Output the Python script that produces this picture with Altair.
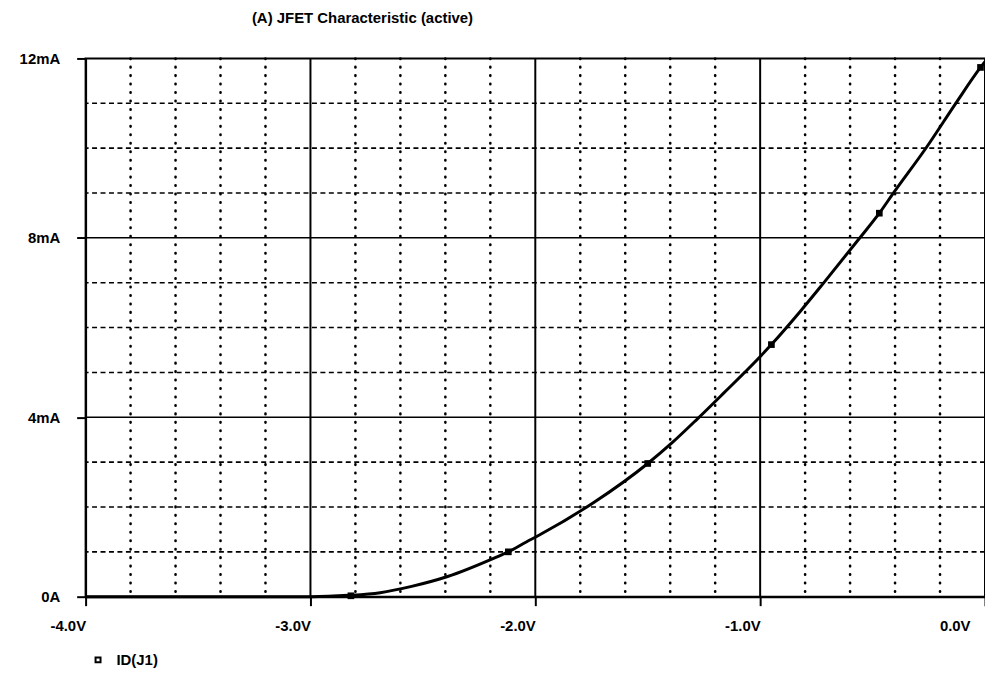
import altair as alt
import pandas as pd

# Curve: gate voltage (V) vs drain current (mA)
vgs = [-4.0, -3.0, -2.83, -2.69, -2.55, -2.39, -2.17, -2.12, -2.04, -1.98, -1.74, -1.50,
       -1.39, -1.28, -1.16, -1.01, -0.95, -0.82, -0.72, -0.56, -0.47, -0.41, -0.26,
       -0.13, -0.02, 0.0]
id_ma = [0.0, 0.0, 0.03, 0.09, 0.23, 0.45, 0.89, 1.0, 1.22, 1.38, 2.1, 2.97,
         3.44, 3.96, 4.55, 5.3, 5.62, 6.37, 6.98, 7.98, 8.55, 8.98, 10.02,
         11.0, 11.8, 11.93]

# Marker positions along the trace
mark_v = [-2.82, -2.12, -1.50, -0.95, -0.47, -0.02]
mark_i = [0.02, 1.0, 2.97, 5.62, 8.55, 11.8]

series_name = "ID(J1)"
title_text = "(A) JFET Characteristic (active)"

x_ticks = [-4, -3, -2, -1, 0]
y_ticks = [0, 4, 8, 12]
x_major = [-3, -2, -1]
x_minor = [-3.8, -3.6, -3.4, -3.2, -2.8, -2.6, -2.4, -2.2, -1.8, -1.6, -1.4, -1.2,
           -0.8, -0.6, -0.4, -0.2]
y_major = [4, 8]
y_minor = [1, 2, 3, 5, 6, 7, 9, 10, 11]

FONT = "Liberation Sans"

curve_df = pd.DataFrame({"v": vgs, "i": id_ma, "s": series_name})
mark_df = pd.DataFrame({"v": mark_v, "i": mark_i})

xscale = alt.Scale(domain=[-4, 0], nice=False, zero=False)
yscale = alt.Scale(domain=[0, 12], nice=False, zero=False)

x_axis = alt.Axis(
    values=x_ticks,
    labelExpr="datum.value == 0 ? '0.0V' : datum.value + '.0V'",
    labelAlign="right",
    labelBaseline="top",
    labelFont=FONT, labelFontSize=15, labelFontWeight="bold", labelColor="black",
    labelPadding=13,
    labelOffset={"condition": {"test": "datum.value == 0", "value": -15}, "value": 0},
    labelFlush=False, labelOverlap=False,
    tickSize=9, tickWidth=2, tickColor="black",
    domainColor="black", domainWidth=2,
    grid=False, title=None,
)
y_axis = alt.Axis(
    values=y_ticks,
    labelExpr="datum.value == 0 ? '0A' : datum.value + 'mA'",
    labelAlign="right",
    labelBaseline="middle",
    labelFont=FONT, labelFontSize=15, labelFontWeight="bold", labelColor="black",
    labelPadding=17,
    labelFlush=False, labelOverlap=False,
    tickSize=9, tickWidth=2, tickColor="black",
    domainColor="black", domainWidth=2,
    grid=False, title=None,
)

minor_v = alt.Chart(pd.DataFrame({"v": x_minor})).mark_rule(
    color="black", strokeWidth=2.6, strokeDash=[0.5, 8], strokeCap="round"
).encode(x=alt.X("v:Q", scale=xscale, axis=x_axis))

minor_h = alt.Chart(pd.DataFrame({"i": y_minor})).mark_rule(
    color="black", strokeWidth=1.6, strokeDash=[5, 3.5]
).encode(y=alt.Y("i:Q", scale=yscale, axis=y_axis))

major_v = alt.Chart(pd.DataFrame({"v": x_major})).mark_rule(
    color="black", strokeWidth=2
).encode(x=alt.X("v:Q", scale=xscale))

major_h = alt.Chart(pd.DataFrame({"i": y_major})).mark_rule(
    color="black", strokeWidth=1.5
).encode(y=alt.Y("i:Q", scale=yscale))

curve = alt.Chart(curve_df).mark_line(strokeWidth=3, interpolate="monotone").encode(
    x=alt.X("v:Q", scale=xscale),
    y=alt.Y("i:Q", scale=yscale),
    color=alt.Color(
        "s:N",
        scale=alt.Scale(domain=[series_name], range=["black"]),
        legend=alt.Legend(
            orient="none", legendX=5, legendY=597, title=None, padding=0,
            symbolType="square", symbolSize=25, symbolStrokeWidth=2,
            symbolStrokeColor="black", symbolFillColor="white",
            labelFont=FONT, labelFontSize=15, labelFontWeight="bold",
            labelColor="black", labelOffset=11,
        ),
    ),
)

markers = alt.Chart(mark_df).mark_square(size=45, color="black", opacity=1).encode(
    x=alt.X("v:Q", scale=xscale),
    y=alt.Y("i:Q", scale=yscale),
)

chart = alt.layer(minor_v, minor_h, major_v, major_h, curve, markers).properties(
    width=904,
    height=541,
    title=alt.TitleParams(
        title_text, anchor="start", dx=234, offset=11, baseline="bottom",
        font=FONT, fontSize=15, fontWeight="bold", color="black",
    ),
    autosize=alt.AutoSizeParams(type="none"),
    padding={"left": 78, "top": 49, "right": 0, "bottom": 76},
    background="white",
).configure_view(stroke="black", strokeWidth=2)

chart.save("out.html", embed_options={"renderer": "svg", "actions": False})
